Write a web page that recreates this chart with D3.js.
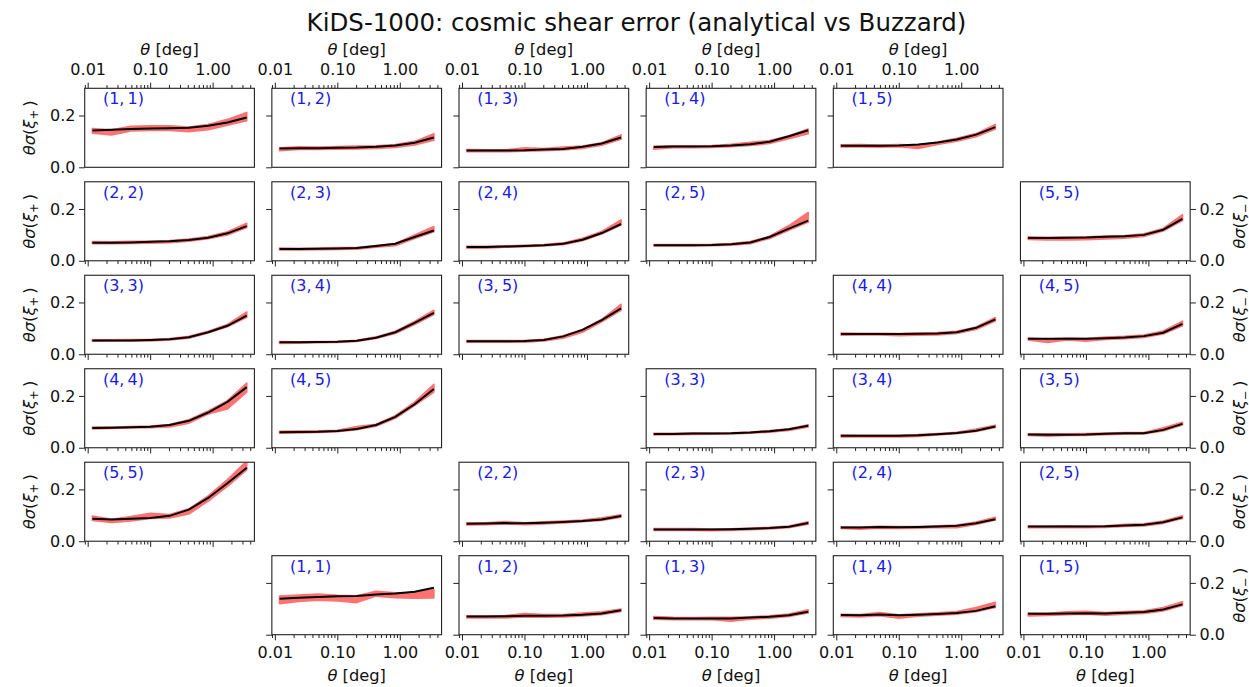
<!DOCTYPE html>
<html><head><meta charset="utf-8">
<script src="https://cdn.jsdelivr.net/npm/d3@7"></script>
<style>
body{margin:0;background:#fff}
text{font-family:"DejaVu Sans",sans-serif;fill:#111}
</style>
</head><body>
<svg id="chart" width="1249" height="687"></svg>
<script>
// ---------------- data ----------------
const titleText = "KiDS-1000: cosmic shear error (analytical vs Buzzard)";
const thetaDeg = [0.0119, 0.0242, 0.0493, 0.1004, 0.2044, 0.4162, 0.8474, 1.7254, 3.5130];
const binPairs = [[1,1],[1,2],[1,3],[1,4],[1,5],[2,2],[2,3],[2,4],[2,5],[3,3],[3,4],[3,5],[4,4],[4,5],[5,5]];
const yTickValues = [0.0, 0.2];
const xMajorTicks = [0.01, 0.1, 1];

// xi_plus: analytical (black) and Buzzard band (red)
const xipAnalytic = [
  [0.142,0.145,0.148,0.150,0.151,0.153,0.160,0.173,0.192],
  [0.073,0.074,0.074,0.075,0.076,0.079,0.084,0.095,0.115],
  [0.065,0.065,0.065,0.066,0.069,0.071,0.079,0.092,0.115],
  [0.078,0.080,0.080,0.081,0.084,0.089,0.099,0.120,0.143],
  [0.083,0.083,0.083,0.084,0.088,0.096,0.107,0.126,0.155],
  [0.070,0.070,0.071,0.073,0.075,0.080,0.089,0.106,0.134],
  [0.045,0.045,0.046,0.047,0.049,0.057,0.066,0.092,0.117],
  [0.053,0.053,0.055,0.057,0.060,0.066,0.081,0.107,0.142],
  [0.060,0.060,0.060,0.061,0.064,0.071,0.092,0.124,0.155],
  [0.053,0.053,0.053,0.055,0.058,0.066,0.085,0.110,0.149],
  [0.046,0.046,0.047,0.048,0.052,0.064,0.085,0.121,0.160],
  [0.050,0.050,0.050,0.051,0.055,0.069,0.094,0.132,0.177],
  [0.076,0.077,0.079,0.081,0.088,0.104,0.136,0.177,0.234],
  [0.060,0.061,0.062,0.065,0.072,0.088,0.119,0.168,0.227],
  [0.087,0.084,0.087,0.090,0.098,0.122,0.167,0.224,0.284]
];
const xipBuzzLow = [
  [0.132,0.125,0.140,0.142,0.142,0.137,0.145,0.162,0.180],
  [0.064,0.069,0.069,0.070,0.071,0.073,0.077,0.086,0.105],
  [0.060,0.060,0.060,0.062,0.064,0.067,0.073,0.085,0.108],
  [0.070,0.076,0.076,0.077,0.080,0.084,0.092,0.110,0.130],
  [0.079,0.079,0.078,0.080,0.073,0.088,0.101,0.118,0.148],
  [0.066,0.066,0.067,0.068,0.070,0.076,0.085,0.100,0.128],
  [0.042,0.042,0.043,0.044,0.045,0.052,0.058,0.086,0.112],
  [0.049,0.049,0.052,0.054,0.057,0.062,0.077,0.103,0.138],
  [0.057,0.057,0.057,0.058,0.060,0.066,0.086,0.118,0.150],
  [0.050,0.051,0.051,0.051,0.055,0.062,0.082,0.106,0.143],
  [0.042,0.043,0.045,0.046,0.049,0.061,0.080,0.115,0.153],
  [0.047,0.047,0.047,0.047,0.051,0.062,0.085,0.125,0.170],
  [0.073,0.074,0.076,0.077,0.080,0.095,0.130,0.150,0.215],
  [0.056,0.057,0.059,0.062,0.070,0.083,0.114,0.163,0.215],
  [0.080,0.072,0.078,0.088,0.090,0.105,0.155,0.212,0.275]
];
const xipBuzzHigh = [
  [0.150,0.145,0.158,0.160,0.160,0.155,0.165,0.185,0.212],
  [0.075,0.079,0.078,0.080,0.082,0.083,0.088,0.100,0.130],
  [0.069,0.068,0.068,0.075,0.072,0.078,0.082,0.095,0.125],
  [0.081,0.083,0.083,0.084,0.089,0.097,0.103,0.122,0.148],
  [0.087,0.088,0.086,0.088,0.086,0.098,0.112,0.130,0.165],
  [0.074,0.073,0.075,0.075,0.078,0.084,0.094,0.112,0.145],
  [0.049,0.048,0.049,0.051,0.051,0.059,0.067,0.100,0.132],
  [0.056,0.056,0.058,0.060,0.063,0.069,0.087,0.113,0.158],
  [0.063,0.063,0.063,0.064,0.067,0.074,0.095,0.136,0.187],
  [0.056,0.056,0.057,0.057,0.061,0.069,0.089,0.115,0.163],
  [0.049,0.048,0.049,0.050,0.054,0.067,0.089,0.127,0.170],
  [0.053,0.053,0.053,0.053,0.058,0.071,0.096,0.135,0.193],
  [0.080,0.080,0.082,0.084,0.090,0.108,0.142,0.182,0.250],
  [0.063,0.064,0.065,0.067,0.082,0.091,0.124,0.176,0.245],
  [0.097,0.085,0.095,0.108,0.103,0.125,0.175,0.238,0.310]
];

// xi_minus
const ximAnalytic = [
  [0.139,0.143,0.146,0.148,0.149,0.155,0.159,0.166,0.181],
  [0.070,0.070,0.071,0.073,0.073,0.074,0.077,0.082,0.094],
  [0.064,0.063,0.063,0.063,0.063,0.066,0.069,0.075,0.089],
  [0.076,0.075,0.078,0.075,0.077,0.080,0.084,0.092,0.110],
  [0.081,0.081,0.082,0.083,0.082,0.085,0.088,0.097,0.117],
  [0.067,0.068,0.070,0.069,0.071,0.074,0.078,0.084,0.097],
  [0.045,0.045,0.045,0.045,0.046,0.048,0.051,0.056,0.070],
  [0.053,0.053,0.055,0.054,0.055,0.057,0.060,0.069,0.085],
  [0.057,0.057,0.057,0.057,0.058,0.061,0.064,0.073,0.092],
  [0.053,0.053,0.055,0.055,0.056,0.059,0.064,0.071,0.085],
  [0.046,0.046,0.046,0.046,0.048,0.052,0.057,0.066,0.082],
  [0.051,0.050,0.050,0.051,0.054,0.056,0.056,0.069,0.092],
  [0.078,0.078,0.078,0.078,0.079,0.080,0.085,0.102,0.135],
  [0.060,0.060,0.060,0.060,0.062,0.065,0.070,0.083,0.117],
  [0.088,0.088,0.089,0.090,0.093,0.095,0.100,0.120,0.162]
];
const ximBuzzLow = [
  [0.120,0.128,0.133,0.130,0.124,0.149,0.143,0.141,0.142],
  [0.065,0.065,0.065,0.069,0.068,0.069,0.072,0.077,0.090],
  [0.060,0.058,0.058,0.058,0.052,0.060,0.064,0.070,0.084],
  [0.070,0.069,0.073,0.064,0.071,0.075,0.079,0.089,0.105],
  [0.072,0.074,0.077,0.079,0.075,0.079,0.082,0.092,0.113],
  [0.063,0.064,0.067,0.064,0.067,0.071,0.075,0.080,0.093],
  [0.042,0.042,0.042,0.041,0.042,0.044,0.047,0.052,0.066],
  [0.049,0.046,0.050,0.049,0.050,0.053,0.052,0.065,0.082],
  [0.052,0.052,0.053,0.052,0.053,0.057,0.059,0.069,0.088],
  [0.049,0.050,0.051,0.052,0.053,0.056,0.060,0.067,0.080],
  [0.042,0.042,0.042,0.042,0.044,0.049,0.054,0.063,0.078],
  [0.047,0.045,0.047,0.047,0.050,0.052,0.053,0.065,0.088],
  [0.074,0.075,0.075,0.072,0.074,0.075,0.080,0.096,0.128],
  [0.055,0.046,0.055,0.050,0.057,0.060,0.065,0.078,0.110],
  [0.082,0.080,0.080,0.081,0.084,0.087,0.094,0.115,0.155]
];
const ximBuzzHigh = [
  [0.149,0.153,0.157,0.152,0.150,0.168,0.162,0.162,0.174],
  [0.073,0.073,0.074,0.082,0.078,0.078,0.084,0.088,0.099],
  [0.070,0.067,0.066,0.067,0.067,0.069,0.073,0.080,0.096],
  [0.079,0.078,0.086,0.077,0.081,0.085,0.089,0.105,0.125],
  [0.084,0.083,0.088,0.090,0.086,0.089,0.092,0.105,0.127],
  [0.071,0.071,0.076,0.071,0.075,0.078,0.082,0.090,0.102],
  [0.049,0.049,0.049,0.047,0.048,0.051,0.054,0.059,0.075],
  [0.056,0.055,0.058,0.057,0.057,0.060,0.062,0.074,0.092],
  [0.059,0.059,0.060,0.059,0.060,0.065,0.067,0.078,0.098],
  [0.056,0.056,0.057,0.057,0.058,0.061,0.066,0.073,0.089],
  [0.049,0.048,0.048,0.048,0.051,0.055,0.060,0.072,0.087],
  [0.054,0.054,0.054,0.055,0.057,0.059,0.059,0.077,0.098],
  [0.082,0.081,0.081,0.080,0.082,0.084,0.089,0.105,0.142],
  [0.063,0.059,0.063,0.061,0.066,0.069,0.074,0.090,0.128],
  [0.093,0.091,0.092,0.093,0.095,0.097,0.104,0.125,0.178]
];

// ---------------- layout ----------------
const svg = d3.select("#chart");
const colLeft0 = 84.7, colStep = 187.15, panelW = 169.7;
const rowTop0 = 88.3, rowStep = 93.48, panelH = 79;
const fsTick = 16, fsLabel = 16.3;

const x = d3.scaleLog().domain([0.00896, 4.66]).range([0, panelW]);
const y = d3.scaleLinear().domain([0, 0.305]).range([panelH, 0]);
const minorTicks = x.ticks().filter(t => !xMajorTicks.some(m => Math.abs(m - t) < 1e-9));

svg.append("text").attr("x", 636.5).attr("y", 31).attr("text-anchor", "middle")
  .style("font-size", "24.5px").text(titleText);

function thetaLabel(sel) {
  sel.append("tspan").style("font-style", "italic").text("θ");
  sel.append("tspan").text(" [deg]");
}
function ySigmaLabel(sel, sign) {
  sel.append("tspan").style("font-style", "italic").text("θσ");
  sel.append("tspan").text("(");
  sel.append("tspan").style("font-style", "italic").text("ξ");
  sel.append("tspan").attr("dy", 3.5).style("font-size", "11.5px").text(sign);
  sel.append("tspan").attr("dy", -3.5).text("\u2009)");
}

let clipId = 0;
function drawPanel(opts) {
  const {row, col, pair, ana, lo, hi, xAxisPos, xLabels, yAxisPos, yLabels, yTitle} = opts;
  const gx = colLeft0 + col * colStep, gy = rowTop0 + row * rowStep;
  const g = svg.append("g").attr("transform", `translate(${gx},${gy})`);
  const cid = "clip" + (clipId++);
  g.append("clipPath").attr("id", cid).append("rect").attr("width", panelW).attr("height", panelH);
  const pts = thetaDeg.map((t, k) => ({t, a: ana[k], l: lo[k], h: hi[k]}));
  const plot = g.append("g").attr("clip-path", `url(#${cid})`);
  plot.append("g").attr("opacity", 0.55).append("path").datum(pts)
    .attr("d", d3.area().x(d => x(d.t)).y0(d => y(d.l)).y1(d => y(d.h)))
    .attr("fill", "#ff0000").attr("stroke", "#ff0000").attr("stroke-width", 1.6)
    .attr("stroke-linejoin", "round");
  plot.append("path").datum(pts)
    .attr("d", d3.line().x(d => x(d.t)).y(d => y(d.a)))
    .attr("fill", "none").attr("stroke", "#000").attr("stroke-width", 2);

  // x axis
  const mk = xAxisPos === "top" ? d3.axisTop : d3.axisBottom;
  const xa = g.append("g").attr("transform", xAxisPos === "top" ? "translate(0,0)" : `translate(0,${panelH})`);
  xa.call(mk(x).tickValues(minorTicks).tickSize(3.3).tickFormat(""));
  const xm = g.append("g").attr("transform", xAxisPos === "top" ? "translate(0,0)" : `translate(0,${panelH})`);
  xm.call(mk(x).tickValues(xMajorTicks).tickSize(5.7).tickPadding(xAxisPos === "top" ? 7.6 : 6.6)
    .tickFormat(xLabels ? d3.format(".2f") : ""));
  [xa, xm].forEach(a => { a.select(".domain").remove(); a.selectAll("line").attr("stroke", "#222").attr("stroke-width", 1);
    a.selectAll("text").style("font-size", fsTick + "px").style("font-family", "DejaVu Sans").attr("fill", "#111"); });
  if (xLabels) {
    const t = g.append("text").attr("x", panelW / 2).attr("text-anchor", "middle").style("font-size", fsLabel + "px")
      .attr("y", xAxisPos === "top" ? 55 - gy : 681 - gy);
    thetaLabel(t);
  }
  // y axis
  const ymk = yAxisPos === "right" ? d3.axisRight : d3.axisLeft;
  const ya = g.append("g").attr("transform", yAxisPos === "right" ? `translate(${panelW},0)` : "translate(0,0)");
  ya.call(ymk(y).tickValues(yTickValues).tickSize(5.7).tickPadding(3.6).tickFormat(yLabels ? d3.format(".1f") : ""));
  ya.select(".domain").remove();
  ya.selectAll("line").attr("stroke", "#222").attr("stroke-width", 1);
  ya.selectAll("text").style("font-size", fsTick + "px").style("font-family", "DejaVu Sans").attr("fill", "#111");
  if (yTitle) {
    const xpos = yAxisPos === "right" ? 1245 - gx : 35 - gx;
    const t = g.append("text").attr("text-anchor", "middle").style("font-size", fsLabel + "px")
      .attr("transform", `translate(${xpos},${panelH / 2}) rotate(-90)`);
    ySigmaLabel(t, yTitle);
  }
  // frame
  g.append("rect").attr("width", panelW).attr("height", panelH).attr("fill", "none")
    .attr("stroke", "#222").attr("stroke-width", 1.1);
  // bin label
  g.append("text").attr("x", 18.2).attr("y", 16.2).style("font-size", "16px").style("fill", "#1a1ae6")
    .text(`(${pair[0]},\u2009${pair[1]})`);
}

binPairs.forEach((p, k) => {
  const i = p[0], j = p[1];
  const row = i - 1, col = j - i;
  drawPanel({row, col, pair: p, ana: xipAnalytic[k], lo: xipBuzzLow[k], hi: xipBuzzHigh[k],
    xAxisPos: row === 0 ? "top" : "bottom", xLabels: row === 0,
    yAxisPos: "left", yLabels: col === 0, yTitle: col === 0 ? "+" : null});
});
binPairs.forEach((p, k) => {
  const i = p[0], j = p[1];
  const row = 6 - i, col = j;
  drawPanel({row, col, pair: p, ana: ximAnalytic[k], lo: ximBuzzLow[k], hi: ximBuzzHigh[k],
    xAxisPos: "bottom", xLabels: row === 5,
    yAxisPos: col === 5 ? "right" : "left", yLabels: col === 5, yTitle: col === 5 ? "\u2212" : null});
});
</script>
</body></html>
